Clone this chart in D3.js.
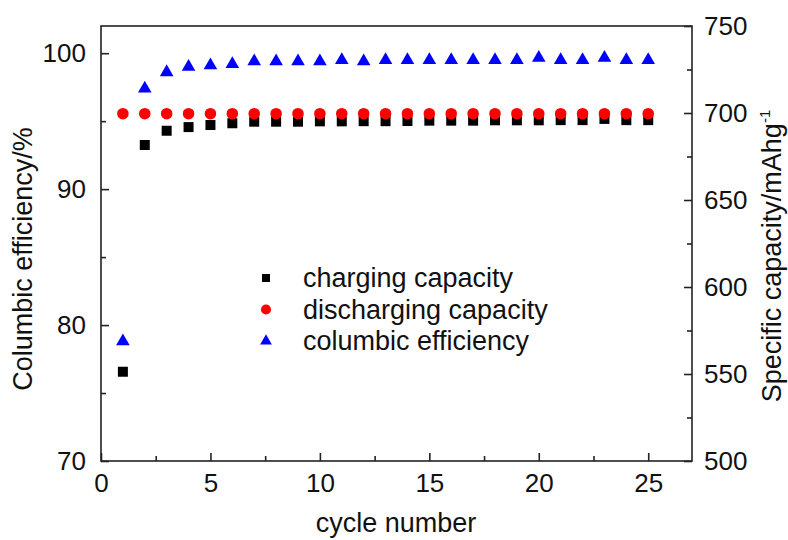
<!DOCTYPE html>
<html>
<head>
<meta charset="utf-8">
<script src="https://cdn.jsdelivr.net/npm/d3@7"></script>
<style>
  body { margin: 0; background: #fff; }
  svg text { font-family: Arial, "Liberation Sans", sans-serif; fill: #111; }
</style>
</head>
<body>
<svg id="chart" width="788" height="540"></svg>
<script>
// cycle numbers
const cycles = d3.range(1, 26);
// charging / discharging capacity in mAh/g (right axis)
const charging = [551.3, 681.6, 689.8, 691.9, 693.1, 694.1, 695.0, 695.0, 695.0, 695.2, 695.2,
  695.3, 695.3, 695.4, 695.6, 695.6, 695.6, 695.8, 695.8, 695.8, 695.9, 695.9, 696.6, 695.9, 695.9];
const discharging = [699.6, 699.6, 699.6, 699.6, 699.6, 699.6, 699.6, 699.6, 699.6, 699.6, 699.6,
  699.6, 699.6, 699.6, 699.6, 699.6, 699.6, 699.6, 699.6, 699.6, 699.6, 699.6, 699.6, 699.6, 699.6];
// columbic efficiency in % (left axis)
const efficiency = [78.8, 97.4, 98.6, 99.0, 99.1, 99.2, 99.4, 99.4, 99.4, 99.4, 99.5,
  99.4, 99.5, 99.5, 99.5, 99.5, 99.5, 99.5, 99.5, 99.65, 99.5, 99.5, 99.65, 99.5, 99.5];

const xTicks = [0, 5, 10, 15, 20, 25];
const xMinor = [2.5, 7.5, 12.5, 17.5, 22.5];
const leftTicks = [70, 80, 90, 100];
const leftMinor = [75, 85, 95];
const rightTicks = [500, 550, 600, 650, 700, 750];
const rightMinor = [525, 575, 625, 675, 725];
const legendNames = ["charging capacity", "discharging capacity", "columbic efficiency"];

const svg = d3.select("#chart");
const m = {left: 101, right: 692, top: 26, bottom: 461};

const x = d3.scaleLinear().domain([0, 27]).range([m.left, m.right]);
const yL = d3.scaleLinear().domain([70, 102]).range([m.bottom, m.top]);
const yR = d3.scaleLinear().domain([500, 750]).range([m.bottom, m.top]);

const ink = "#222";
const tickFs = 26;
const titleFs = 27;

// frame
svg.append("rect")
  .attr("x", m.left).attr("y", m.top)
  .attr("width", m.right - m.left).attr("height", m.bottom - m.top)
  .attr("fill", "none").attr("stroke", ink).attr("stroke-width", 1.6);

const styleAxis = (g) => {
  g.select(".domain").remove();
  g.selectAll("line").attr("stroke", ink).attr("stroke-width", 1.6);
  g.selectAll("text").attr("font-size", tickFs).attr("fill", "#111")
    .style("font-family", "Arial, 'Liberation Sans', sans-serif");
};

// bottom axis
svg.append("g").attr("transform", `translate(0,${m.bottom})`)
  .call(d3.axisBottom(x).tickValues(xTicks).tickSize(-8).tickPadding(13).tickFormat(d3.format("d")))
  .call(styleAxis);
svg.append("g").attr("transform", `translate(0,${m.bottom})`)
  .call(d3.axisBottom(x).tickValues(xMinor).tickSize(-5).tickFormat(""))
  .call(styleAxis);

// left axis
svg.append("g").attr("transform", `translate(${m.left},0)`)
  .call(d3.axisLeft(yL).tickValues(leftTicks).tickSize(-8).tickPadding(15).tickFormat(d3.format("d")))
  .call(styleAxis);
svg.append("g").attr("transform", `translate(${m.left},0)`)
  .call(d3.axisLeft(yL).tickValues(leftMinor).tickSize(-5).tickFormat(""))
  .call(styleAxis);

// right axis
svg.append("g").attr("transform", `translate(${m.right},0)`)
  .call(d3.axisRight(yR).tickValues(rightTicks).tickSize(-8).tickPadding(12).tickFormat(d3.format("d")))
  .call(styleAxis);
svg.append("g").attr("transform", `translate(${m.right},0)`)
  .call(d3.axisRight(yR).tickValues(rightMinor).tickSize(-5).tickFormat(""))
  .call(styleAxis);

// axis titles
svg.append("text")
  .attr("x", 396).attr("y", 532)
  .attr("text-anchor", "middle").attr("font-size", titleFs)
  .text("cycle number");

svg.append("text")
  .attr("transform", `translate(32,259) rotate(-90)`)
  .attr("text-anchor", "middle").attr("font-size", titleFs)
  .text("Columbic efficiency/%");

const rt = svg.append("text")
  .attr("transform", `translate(781,256) rotate(-90)`)
  .attr("text-anchor", "middle").attr("font-size", titleFs);
rt.append("tspan").text("Specific capacity/mAhg");
rt.append("tspan").attr("dy", -11).attr("font-size", 15).text("-1");

// markers
const sq = d3.symbol().type(d3.symbolSquare).size(100);
const ci = d3.symbol().type(d3.symbolCircle).size(105);
const tri = d3.symbol().type(d3.symbolTriangle).size(80);

svg.append("g").selectAll("path")
  .data(cycles.map((c, i) => [c, charging[i]]))
  .join("path")
  .attr("d", sq)
  .attr("transform", d => `translate(${x(d[0])},${yR(d[1])})`)
  .attr("fill", "#000");

svg.append("g").selectAll("path")
  .data(cycles.map((c, i) => [c, discharging[i]]))
  .join("path")
  .attr("d", ci)
  .attr("transform", d => `translate(${x(d[0])},${yR(d[1])})`)
  .attr("fill", "#ff0000");

svg.append("g").selectAll("path")
  .data(cycles.map((c, i) => [c, efficiency[i]]))
  .join("path")
  .attr("d", tri)
  .attr("transform", d => `translate(${x(d[0])},${yL(d[1])})`)
  .attr("fill", "#0000ff");

// legend
const legendSyms = [
  {sym: d3.symbol().type(d3.symbolSquare).size(64), color: "#000"},
  {sym: d3.symbol().type(d3.symbolCircle).size(80), color: "#ff0000"},
  {sym: d3.symbol().type(d3.symbolTriangle).size(60), color: "#0000ff"}
];
const lg = svg.append("g").attr("transform", "translate(266,278)");
const rows = lg.selectAll("g").data(legendNames).join("g")
  .attr("transform", (d, i) => `translate(0,${i * 31.5})`);
rows.append("path")
  .attr("d", (d, i) => legendSyms[i].sym())
  .attr("fill", (d, i) => legendSyms[i].color);
rows.append("text")
  .attr("x", 37).attr("y", 9)
  .attr("font-size", titleFs)
  .text(d => d);
</script>
</body>
</html>
